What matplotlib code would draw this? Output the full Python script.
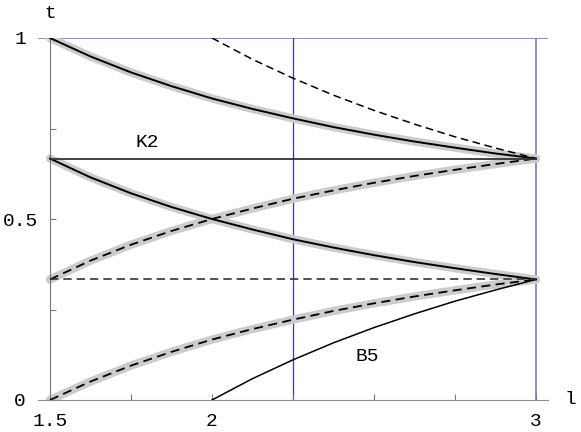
import matplotlib
matplotlib.use("Agg")
from matplotlib import pyplot as plt

# values (l on x, t on y)
l_full = [1.5, 1.625, 1.75, 1.875, 2.0, 2.125, 2.25, 2.375, 2.5, 2.625, 2.75, 2.875, 3.0]
t_top_solid = [1.0, 0.949, 0.905, 0.867, 0.833, 0.804, 0.778, 0.754, 0.733, 0.714, 0.697, 0.681, 0.667]
t_mid_solid = [0.667, 0.615, 0.571, 0.533, 0.5, 0.471, 0.444, 0.421, 0.4, 0.381, 0.364, 0.348, 0.333]
t_mid_dashed = [0.333, 0.385, 0.429, 0.467, 0.5, 0.529, 0.556, 0.579, 0.6, 0.619, 0.636, 0.652, 0.667]
t_low_dashed = [0.0, 0.051, 0.095, 0.133, 0.167, 0.196, 0.222, 0.246, 0.267, 0.286, 0.303, 0.319, 0.333]

l_half = [2.0, 2.125, 2.25, 2.375, 2.5, 2.625, 2.75, 2.875, 3.0]
t_top_dashed = [1.0, 0.941, 0.889, 0.842, 0.8, 0.762, 0.727, 0.696, 0.667]
t_b5 = [0.0, 0.059, 0.111, 0.158, 0.2, 0.238, 0.273, 0.304, 0.333]

l_flat = [1.5, 3.0]
t_k2 = [0.667, 0.667]
t_flat_dashed = [0.333, 0.333]

x_ticks = [1.5, 1.75, 2.0, 2.25, 2.5, 2.75, 3.0]
x_labels = ["1.5", "", "2", "", "", "", "3"]
y_ticks = [0.0, 0.25, 0.5, 0.75, 1.0]
y_labels = ["0", "", "0.5", "", "1"]

plt.rcParams['font.family'] = ['Liberation Mono', 'DejaVu Sans']

fig = plt.figure(figsize=(5.81, 4.32), dpi=100)
ax = fig.add_axes([38 / 581, 32 / 432, 510 / 581, 362 / 432])
ax.set_xlim(1.463, 3.037)
ax.set_ylim(0, 1)

# frame lines
ax.axhline(1.0, color="#7878cc", lw=1.2, zorder=1)
ax.plot([2.25, 2.25], [0, 1], color="#3a3a90", lw=0.9, zorder=1)
ax.plot([3.0, 3.0], [0, 1], color="#8c8cd0", lw=1.4, zorder=1)

grey = "#cccccc"
for tv in [t_top_solid, t_mid_solid, t_mid_dashed, t_low_dashed]:
    ax.plot(l_full, tv, color=grey, lw=6, solid_capstyle="round", zorder=2)

ax.plot(l_full, t_top_solid, color="black", lw=1.4, zorder=3)
ax.plot(l_full, t_mid_solid, color="black", lw=1.4, zorder=3)
ax.plot(l_full, t_mid_dashed, color="black", lw=1.3, ls=(0, (5, 3)), zorder=3)
ax.plot(l_full, t_low_dashed, color="black", lw=1.3, ls=(0, (5, 3)), zorder=3)
ax.plot(l_half, t_top_dashed, color="black", lw=1.1, ls=(0, (5, 3)), zorder=3)
ax.plot(l_half, t_b5, color="black", lw=1.1, zorder=3)
ax.plot(l_flat, t_k2, color="#333333", lw=1.3, zorder=3)
ax.plot(l_flat, t_flat_dashed, color="#333333", lw=1.2, ls=(0, (5, 3)), zorder=3)

ax.text(1.80, 0.71, "K2", fontsize=14, ha="center", va="center")
ax.text(2.48, 0.12, "B5", fontsize=14, ha="center", va="center")

# axes in the Mathematica style
for side in ["top", "right"]:
    ax.spines[side].set_visible(False)
ax.spines["left"].set_position(("data", 1.5))
ax.spines["left"].set_color("#777777")
ax.spines["bottom"].set_color("#8a8aa8")
ax.set_xticks(x_ticks)
ax.set_xticklabels(x_labels)
ax.set_yticks(y_ticks)
ax.set_yticklabels(y_labels, ha="center")
ax.tick_params(axis="x", direction="in", length=4, color="#777777", labelsize=14, pad=9)
ax.tick_params(axis="y", direction="in", length=4, color="#777777", labelsize=14, pad=21.5)

fig.text(50 / 581, 1 - 13 / 432, "t", fontsize=14, ha="center", va="center")
fig.text(570 / 581, 1 - 400 / 432, "l", fontsize=14, ha="center", va="center")

plt.savefig("out.png", dpi=100)
